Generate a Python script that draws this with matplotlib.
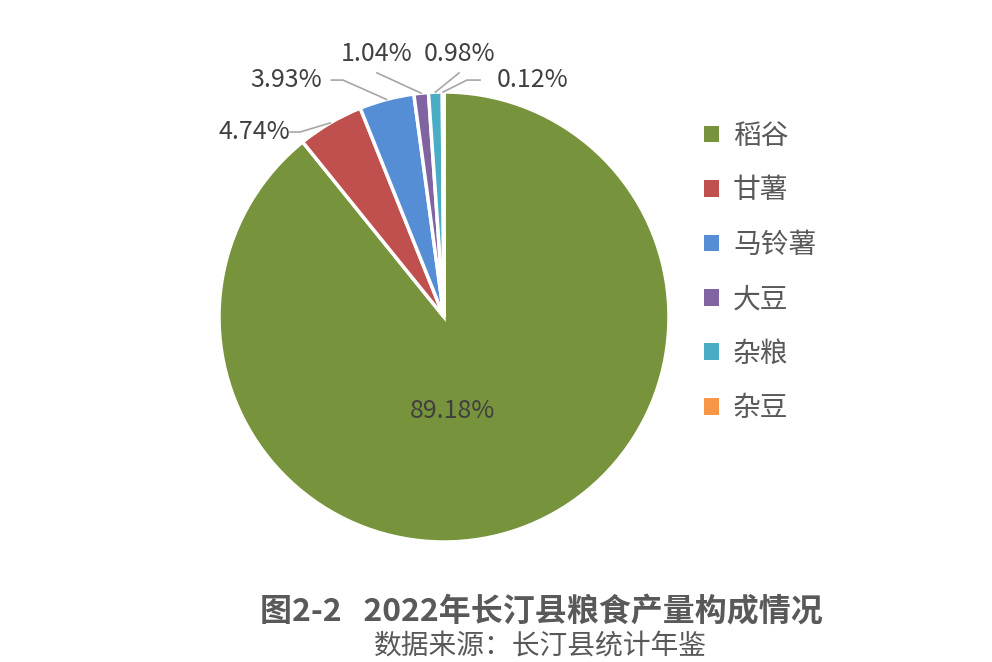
import numpy as np
import matplotlib.pyplot as plt
from matplotlib.patches import Patch

plt.rcParams['font.family'] = ['Noto Sans CJK SC', 'DejaVu Sans']

# data
categories = ['稻谷', '甘薯', '马铃薯', '大豆', '杂粮', '杂豆']
shares = [89.18, 4.74, 3.93, 1.04, 0.98, 0.12]
colors = ['#77933C', '#C0504D', '#558ED5', '#8064A2', '#4BACC6', '#F79646']

# label placement for the small slices: (text x, text y, ha, elbow x, line-end x)
label_pos = {
    1: (-0.685, 0.822, 'right', -0.64, -0.684),
    2: (-0.54, 1.053, 'right', -0.449, -0.50),
    3: (-0.298, 1.17, 'center', -0.298, -0.298),
    4: (0.067, 1.17, 'center', 0.067, 0.067),
    5: (0.236, 1.053, 'left', 0.102, 0.16),
}

fig = plt.figure(figsize=(9.92, 6.62), dpi=100)
cx, cy = 444 / 992, 1 - 317 / 662
w, h = 450 / 992, 450 / 662
ax = fig.add_axes([cx - w / 2, cy - h / 2, w, h])

wedges, _ = ax.pie(shares, colors=colors, startangle=90, counterclock=False,
                   radius=1, wedgeprops=dict(edgecolor='white', linewidth=2.5))
ax.set_aspect('equal')
ax.set_xlim(-1, 1)
ax.set_ylim(-1, 1)
ax.axis('off')

# big label inside
ax.text(0.036, -0.42, f'{shares[0]:.2f}%', ha='center', va='center',
        fontsize=18, color='#404040')

for i, (tx, ty, ha, ex, lx) in label_pos.items():
    wdg = wedges[i]
    ang = np.deg2rad((wdg.theta1 + wdg.theta2) / 2)
    x0, y0 = 1.0 * np.cos(ang), 1.0 * np.sin(ang)
    if ha == 'center':
        ly = ty - 0.085
        ax.plot([x0, lx], [y0, ly], color='#a6a6a6', lw=1.2, clip_on=False)
    else:
        ax.plot([x0, ex, lx], [y0, ty, ty], color='#a6a6a6', lw=1.2, clip_on=False)
    ax.text(tx, ty, f'{shares[i]:.2f}%', ha=ha, va='center',
            fontsize=18, color='#404040', clip_on=False)

handles = [Patch(facecolor=c, edgecolor='none') for c in colors]
fig.legend(handles, categories, loc='upper left', bbox_to_anchor=(690 / 992, 1 - 107 / 662),
           frameon=False, fontsize=20, labelcolor='#595959', handlelength=0.55,
           handleheight=0.55, handletextpad=0.5, labelspacing=0.88, borderpad=0)

fig.text(541 / 992, 1 - 612 / 662, '图2-2   2022年长汀县粮食产量构成情况', ha='center',
         va='center', fontsize=23, fontweight='bold', color='#595959')
fig.text(540 / 992, 1 - 647 / 662, '数据来源：长汀县统计年鉴', ha='center',
         va='center', fontsize=20, color='#595959')

fig.savefig('out.png', dpi=100)
